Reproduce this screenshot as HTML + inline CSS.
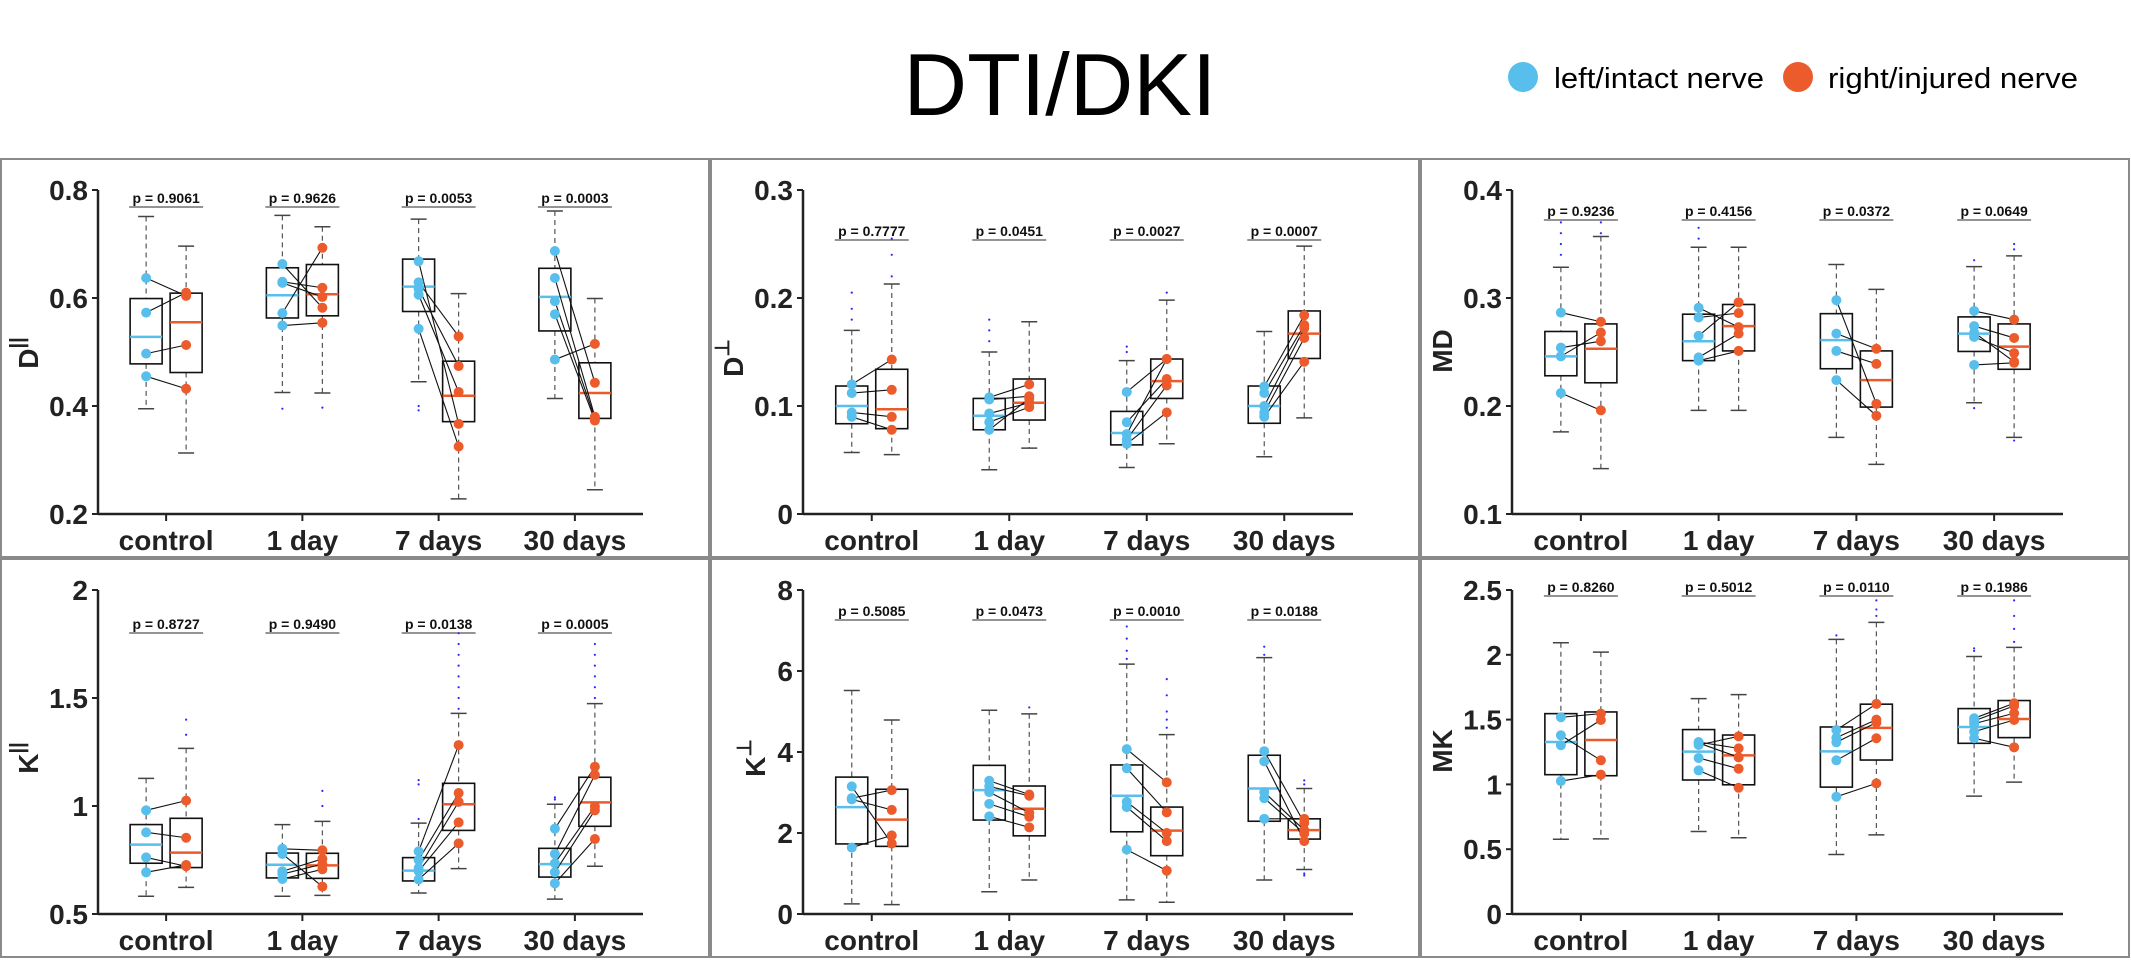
<!DOCTYPE html>
<html><head><meta charset="utf-8"><title>DTI/DKI</title>
<style>
html,body{margin:0;padding:0;background:#fff;}
svg{display:block;font-family:"Liberation Sans",sans-serif;}
</style></head>
<body>
<svg id="fig" width="2131" height="960" viewBox="0 0 2131 960" xmlns="http://www.w3.org/2000/svg">
<rect x="0" y="0" width="2131" height="960" fill="#fff"/>
<text x="1060" y="115" font-size="88" text-anchor="middle" fill="#000">DTI/DKI</text>
<g>
  <g>
    <circle cx="1523" cy="77" r="15" fill="#58BEEC"/>
    <text x="1554" y="88" font-size="29" textLength="210" lengthAdjust="spacingAndGlyphs">left/intact nerve</text>
  </g>
  <g>
    <circle cx="1798" cy="77" r="15" fill="#EC5B2B"/>
    <text x="1828" y="88" font-size="29" textLength="250" lengthAdjust="spacingAndGlyphs">right/injured nerve</text>
  </g>
</g>
<g id="panels"></g>
</svg>
<script>
const categories = ["control","1 day","7 days","30 days"];

// stats per group: [whiskerLow, q1, median, q3, whiskerHigh]
const dParBlueStats = [[0.395,0.478,0.528,0.599,0.751],[0.425,0.563,0.605,0.656,0.753],[0.445,0.575,0.621,0.672,0.746],[0.414,0.539,0.602,0.655,0.761]];
const dParRedStats  = [[0.313,0.462,0.555,0.609,0.696],[0.424,0.567,0.607,0.662,0.732],[0.228,0.371,0.419,0.483,0.608],[0.245,0.377,0.424,0.480,0.599]];
const dParBluePts = [[0.637,0.573,0.497,0.455],[0.663,0.630,0.628,0.572,0.549],[0.668,0.629,0.617,0.606,0.543],[0.687,0.637,0.594,0.570,0.486]];
const dParRedPts  = [[0.604,0.610,0.513,0.432],[0.582,0.619,0.602,0.693,0.554],[0.367,0.529,0.474,0.426,0.325],[0.443,0.380,0.377,0.373,0.515]];
const dParBlueOut = [[],[0.395],[0.400,0.392],[]];
const dParRedOut  = [[],[0.397],[],[]];
const dParP = ["p = 0.9061","p = 0.9626","p = 0.0053","p = 0.0003"];
const dParTicks = [0.2,0.4,0.6,0.8];
const dParTickLabels = ["0.2","0.4","0.6","0.8"];

const dPerBlueStats = [[0.057,0.0836,0.100,0.1185,0.170],[0.041,0.078,0.091,0.107,0.150],[0.043,0.064,0.075,0.095,0.142],[0.053,0.084,0.100,0.1185,0.169]];
const dPerRedStats  = [[0.055,0.079,0.097,0.134,0.213],[0.061,0.087,0.103,0.125,0.178],[0.065,0.107,0.123,0.1435,0.198],[0.089,0.144,0.167,0.188,0.248]];
const dPerBluePts = [[0.120,0.112,0.094,0.090],[0.108,0.106,0.093,0.085,0.078],[0.113,0.085,0.074,0.069,0.065],[0.118,0.112,0.100,0.094,0.090]];
const dPerRedPts  = [[0.143,0.115,0.090,0.078],[0.120,0.109,0.103,0.099,0.107],[0.1435,0.125,0.1435,0.119,0.094],[0.184,0.175,0.172,0.163,0.141]];
const dPerBlueOut = [[0.180,0.190,0.205],[0.160,0.170,0.180],[0.150,0.155],[]];
const dPerRedOut  = [[0.220,0.240,0.255],[],[0.205],[]];
const dPerP = ["p = 0.7777","p = 0.0451","p = 0.0027","p = 0.0007"];
const dPerTicks = [0,0.1,0.2,0.3];
const dPerTickLabels = ["0","0.1","0.2","0.3"];

const mdBlueStats = [[0.176,0.228,0.246,0.269,0.3285],[0.196,0.242,0.260,0.285,0.347],[0.171,0.2345,0.261,0.2855,0.331],[0.203,0.2505,0.267,0.2825,0.329]];
const mdRedStats  = [[0.142,0.2215,0.253,0.276,0.357],[0.196,0.251,0.274,0.294,0.347],[0.146,0.199,0.224,0.251,0.308],[0.171,0.234,0.255,0.276,0.339]];
const mdBluePts = [[0.2865,0.254,0.246,0.212],[0.291,0.282,0.265,0.245,0.242],[0.298,0.267,0.251,0.224],[0.288,0.274,0.268,0.264,0.238]];
const mdRedPts  = [[0.278,0.260,0.268,0.196],[0.273,0.286,0.296,0.267,0.251],[0.202,0.253,0.239,0.191],[0.280,0.263,0.241,0.249,0.240]];
const mdBlueOut = [[0.340,0.350,0.360,0.370],[0.355,0.365],[],[0.335,0.198]];
const mdRedOut  = [[0.360,0.370],[],[],[0.345,0.350,0.168]];
const mdP = ["p = 0.9236","p = 0.4156","p = 0.0372","p = 0.0649"];
const mdTicks = [0.1,0.2,0.3,0.4];
const mdTickLabels = ["0.1","0.2","0.3","0.4"];

const kParBlueStats = [[0.582,0.735,0.821,0.914,1.128],[0.582,0.667,0.728,0.782,0.914],[0.597,0.653,0.701,0.761,0.921],[0.569,0.671,0.731,0.804,1.008]];
const kParRedStats  = [[0.623,0.715,0.784,0.943,1.267],[0.586,0.665,0.725,0.781,0.929],[0.710,0.887,1.008,1.105,1.429],[0.721,0.906,1.017,1.133,1.474]];
const kParBluePts = [[0.980,0.878,0.762,0.693],[0.802,0.778,0.698,0.685,0.662],[0.790,0.750,0.713,0.698,0.660],[0.895,0.778,0.735,0.693,0.642]];
const kParRedPts  = [[1.025,0.853,0.721,0.727],[0.795,0.627,0.755,0.731,0.707],[1.282,1.060,1.019,0.924,0.827],[1.182,1.144,0.998,0.980,0.847]];
const kParBlueOut = [[],[],[1.10,1.12,0.94],[1.03,1.04]];
const kParRedOut  = [[1.33,1.40],[1.00,1.07],[1.45,1.50,1.55,1.60,1.65,1.70,1.75,1.80],[1.50,1.55,1.60,1.65,1.70,1.75]];
const kParP = ["p = 0.8727","p = 0.9490","p = 0.0138","p = 0.0005"];
const kParTicks = [0.5,1,1.5,2];
const kParTickLabels = ["0.5","1","1.5","2"];

const kPerBlueStats = [[0.25,1.73,2.64,3.38,5.52],[0.55,2.32,3.06,3.67,5.03],[0.35,2.03,2.92,3.68,6.17],[0.84,2.29,3.10,3.92,6.33]];
const kPerRedStats  = [[0.23,1.67,2.33,3.08,4.79],[0.84,1.93,2.60,3.16,4.94],[0.29,1.44,2.06,2.64,4.43],[1.10,1.85,2.07,2.35,3.10]];
const kPerBluePts = [[3.15,2.86,2.83,1.64],[3.29,3.15,3.01,2.72,2.41],[4.07,3.60,2.77,2.64,1.59],[4.02,3.77,3.01,2.86,2.35]];
const kPerRedPts  = [[1.74,3.06,2.57,1.94],[2.95,2.92,2.50,2.40,2.14],[3.25,2.51,2.00,1.80,1.07],[2.25,1.80,2.07,1.99,2.35]];
const kPerBlueOut = [[],[],[6.3,6.5,6.8,7.1],[6.4,6.6]];
const kPerRedOut  = [[],[5.1],[4.6,4.8,5.0,5.4,5.8],[3.2,3.3,1.0,0.95]];
const kPerP = ["p = 0.5085","p = 0.0473","p = 0.0010","p = 0.0188"];
const kPerTicks = [0,2,4,6,8];
const kPerTickLabels = ["0","2","4","6","8"];

const mkBlueStats = [[0.577,1.075,1.327,1.546,2.093],[0.637,1.034,1.253,1.423,1.662],[0.459,0.979,1.255,1.443,2.119],[0.910,1.317,1.443,1.585,1.987]];
const mkRedStats  = [[0.580,1.067,1.343,1.559,2.021],[0.588,0.997,1.224,1.381,1.693],[0.611,1.188,1.436,1.619,2.250],[1.018,1.361,1.505,1.647,2.057]];
const mkBluePts = [[1.518,1.379,1.302,1.026],[1.327,1.320,1.304,1.204,1.108],[1.420,1.361,1.325,1.186,0.905],[1.510,1.490,1.469,1.407,1.356]];
const mkRedPts  = [[1.546,1.186,1.497,1.075],[1.278,1.209,1.371,1.121,0.974],[1.621,1.500,1.477,1.356,1.008],[1.626,1.606,1.549,1.497,1.286]];
const mkBlueOut = [[],[],[2.15],[2.03,2.05]];
const mkRedOut  = [[],[],[2.30,2.35,2.42],[2.10,2.20,2.30,2.42]];
const mkP = ["p = 0.8260","p = 0.5012","p = 0.0110","p = 0.1986"];
const mkTicks = [0,0.5,1,1.5,2,2.5];
const mkTickLabels = ["0","0.5","1","1.5","2","2.5"];

const BLUE = "#58BEEC", RED = "#EC5B2B";
const NS = "http://www.w3.org/2000/svg";
const root = document.getElementById("panels");

function mk(tag, attrs, parent){
  const e = document.createElementNS(NS, tag);
  for (const k in attrs) e.setAttribute(k, attrs[k]);
  parent.appendChild(e);
  return e;
}

function drawPanel(cfg){
  const g = mk("g", {}, root);
  
  
  const px = cfg.px, py = cfg.py;
  const border = mk("rect", {x:px+1, y:py+1, width:708, height:398, fill:"none", stroke:"#8a8a8a", "stroke-width":2}, g);
  
  
  const x0 = px + cfg.ax, x1 = px + 643;
  const yTop = py + 32, yBot = py + 356;
  const vmin = cfg.ticks[0], vmax = cfg.ticks[cfg.ticks.length-1];
  const yS = v => yBot - (v - vmin) / (vmax - vmin) * (yBot - yTop);
  const step = (x1 - x0) / categories.length;
  const xS = i => x0 + (i + 0.5) * step;

  // axes
  const yAxis = mk("line", {x1:x0, y1:yTop, x2:x0, y2:yBot, stroke:"#222", "stroke-width":2.5}, g);
  
  
  const xAxis = mk("line", {x1:x0, y1:yBot, x2:x1, y2:yBot, stroke:"#222", "stroke-width":2.5}, g);
  
  

  cfg.ticks.forEach((t, k) => {
    const y = yS(t);
    mk("line", {x1:x0-6, y1:y, x2:x0, y2:y, stroke:"#222", "stroke-width":2}, g);
    const tl = mk("text", {x:x0-10, y:y+10, "font-size":28, "font-weight":"bold", "text-anchor":"end", fill:"#222"}, g);
    
    
    tl.textContent = cfg.tickLabels[k];
  });

  categories.forEach((c, i) => {
    const x = xS(i);
    mk("line", {x1:x, y1:yBot, x2:x, y2:yBot+7, stroke:"#222", "stroke-width":2}, g);
    const xl = mk("text", {x:x, y:py+392, "font-size":28, "font-weight":"bold", "text-anchor":"middle", fill:"#222"}, g);
    
    
    xl.textContent = c;

    // p-value
    const pt = mk("text", {x:x, y:py+cfg.pY+5, "font-size":14, "font-weight":"bold", "text-anchor":"middle", fill:"#111"}, g);
    
    
    pt.textContent = cfg.p[i];
    mk("line", {x1:x-37, y1:py+cfg.pY+9, x2:x+37, y2:py+cfg.pY+9, stroke:"#555", "stroke-width":1.2}, g);

    const groups = [
      {stats:cfg.bStats[i], out:cfg.bOut[i], col:BLUE, cx:x-20, nm:'box-left-'+i},
      {stats:cfg.rStats[i], out:cfg.rOut[i], col:RED, cx:x+20, nm:'box-right-'+i}
    ];
    groups.forEach(gr => {
      const s = gr.stats, cx = gr.cx;
      const bg = mk("g", {}, g);
      
      
      mk("line", {x1:cx, y1:yS(s[4]), x2:cx, y2:yS(s[3]), stroke:"#555", "stroke-width":1.2, "stroke-dasharray":"5,4"}, bg);
      mk("line", {x1:cx, y1:yS(s[1]), x2:cx, y2:yS(s[0]), stroke:"#555", "stroke-width":1.2, "stroke-dasharray":"5,4"}, bg);
      mk("line", {x1:cx-8, y1:yS(s[4]), x2:cx+8, y2:yS(s[4]), stroke:"#444", "stroke-width":1.5}, bg);
      mk("line", {x1:cx-8, y1:yS(s[0]), x2:cx+8, y2:yS(s[0]), stroke:"#444", "stroke-width":1.5}, bg);
      mk("rect", {x:cx-16, y:yS(s[3]), width:32, height:yS(s[1])-yS(s[3]), fill:"none", stroke:"#111", "stroke-width":1.6}, bg);
      mk("line", {x1:cx-16, y1:yS(s[2]), x2:cx+16, y2:yS(s[2]), stroke:gr.col, "stroke-width":2.5}, bg);
      gr.out.forEach(v => {
        const o = mk("circle", {cx:cx, cy:yS(v), r:1.1, fill:"#2a2aff"}, bg);
        
        
      });
    });

    // paired lines and points
    const bp = cfg.bPts[i], rp = cfg.rPts[i];
    const n = Math.min(bp.length, rp.length);
    for (let k = 0; k < n; k++) {
      const ln = mk("line", {x1:x-20, y1:yS(bp[k]), x2:x+20, y2:yS(rp[k]), stroke:"#111", "stroke-width":1.1}, g);
      
      
    }
    bp.forEach(v => {
      const d = mk("circle", {cx:x-20, cy:yS(v), r:5, fill:BLUE}, g);
      
      
    });
    rp.forEach(v => {
      const d = mk("circle", {cx:x+20, cy:yS(v), r:5, fill:RED}, g);
      
      
    });
  });

  // y-axis title
  const yt = mk("text", {transform:"translate("+(px+cfg.labX)+","+(py+cfg.labY)+") rotate(-90)", "font-size":28, "font-weight":"bold", "text-anchor":"middle", fill:"#222"}, g);
  
  
  const t1 = mk("tspan", {}, yt);
  t1.textContent = cfg.label;
  if (cfg.sup) {
    const t2 = mk("tspan", {"font-size":20, dy:-14}, yt);
    t2.textContent = cfg.sup;
  }
}

drawPanel({name:'panel-d-parallel', px:0, py:158, ax:98, pY:40, ticks:dParTicks, tickLabels:dParTickLabels, bStats:dParBlueStats, rStats:dParRedStats, bPts:dParBluePts, rPts:dParRedPts, bOut:dParBlueOut, rOut:dParRedOut, p:dParP, label:"D", sup:"||", labX:38, labY:195});
drawPanel({name:'panel-d-perp', px:710, py:158, ax:93, pY:73, ticks:dPerTicks, tickLabels:dPerTickLabels, bStats:dPerBlueStats, rStats:dPerRedStats, bPts:dPerBluePts, rPts:dPerRedPts, bOut:dPerBlueOut, rOut:dPerRedOut, p:dPerP, label:"D", sup:"⊥", labX:33, labY:200});
drawPanel({name:'panel-md', px:1420, py:158, ax:92, pY:53, ticks:mdTicks, tickLabels:mdTickLabels, bStats:mdBlueStats, rStats:mdRedStats, bPts:mdBluePts, rPts:mdRedPts, bOut:mdBlueOut, rOut:mdRedOut, p:mdP, label:"MD", sup:"", labX:32, labY:193});
drawPanel({name:'panel-k-parallel', px:0, py:558, ax:98, pY:66, ticks:kParTicks, tickLabels:kParTickLabels, bStats:kParBlueStats, rStats:kParRedStats, bPts:kParBluePts, rPts:kParRedPts, bOut:kParBlueOut, rOut:kParRedOut, p:kParP, label:"K", sup:"||", labX:38, labY:200});
drawPanel({name:'panel-k-perp', px:710, py:558, ax:93, pY:53, ticks:kPerTicks, tickLabels:kPerTickLabels, bStats:kPerBlueStats, rStats:kPerRedStats, bPts:kPerBluePts, rPts:kPerRedPts, bOut:kPerBlueOut, rOut:kPerRedOut, p:kPerP, label:"K", sup:"⊥", labX:55, labY:200});
drawPanel({name:'panel-mk', px:1420, py:558, ax:92, pY:29, ticks:mkTicks, tickLabels:mkTickLabels, bStats:mkBlueStats, rStats:mkRedStats, bPts:mkBluePts, rPts:mkRedPts, bOut:mkBlueOut, rOut:mkRedOut, p:mkP, label:"MK", sup:"", labX:32, labY:193});
</script>
</body></html>
